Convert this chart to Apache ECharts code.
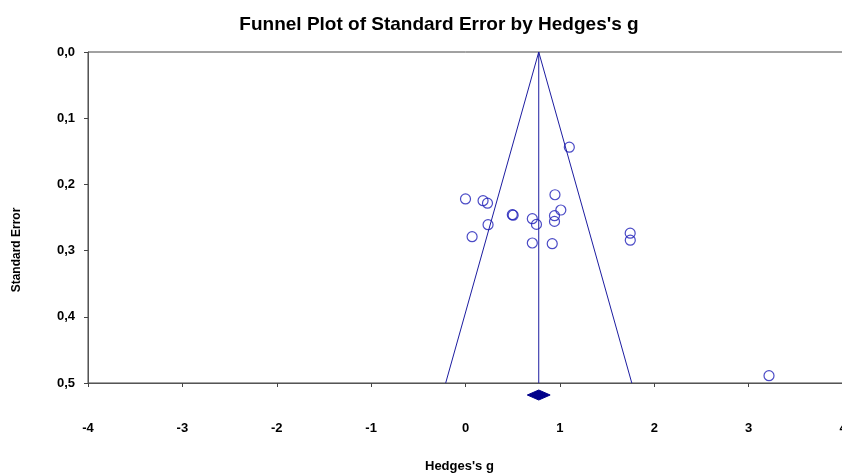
<!DOCTYPE html>
<html>
<head>
<meta charset="utf-8">
<script src="https://cdn.jsdelivr.net/npm/echarts@6/dist/echarts.min.js"></script>
<style>html,body{margin:0;padding:0;background:#fff}#c{width:842px;height:474px}</style>
</head>
<body>
<div id="c"></div>
<script>
// Study effects (Hedges's g) and standard errors
const studyG  = [0.00, 0.186, 0.233, 0.496, 0.505, 0.239, 0.070, 0.708, 0.752, 0.708, 0.919, 0.943, 0.943, 1.010, 0.948, 1.100, 1.745, 1.746, 3.216];
const studySE = [0.222, 0.2246, 0.2284, 0.2458, 0.2465, 0.2609, 0.279, 0.2518, 0.2604, 0.2885, 0.2896, 0.2473, 0.2559, 0.2387, 0.2156, 0.1438, 0.2737, 0.2843, 0.489];
// Summary estimate and CI
const summaryG = 0.776;
const summaryLow = 0.655;
const summaryHigh = 0.897;
// Funnel outline vertices
const funnelG  = [-0.21, 0.776, 1.762];
const funnelSE = [0.5, 0, 0.5];
// Axis ticks
const xTicks = [-4, -3, -2, -1, 0, 1, 2, 3, 4];
const yTicks = [0, 0.1, 0.2, 0.3, 0.4, 0.5];

const FONT = '"Liberation Sans", Arial, sans-serif';
const chart = echarts.init(document.getElementById('c'));
const pts = studyG.map((g, i) => [g, studySE[i]]);
const funnel = funnelG.map((g, i) => [g, funnelSE[i]]);
const center = [[summaryG, yTicks[0]], [summaryG, yTicks[yTicks.length - 1]]];

chart.setOption({
  animation: false,
  backgroundColor: '#fff',
  title: {
    text: "Funnel Plot of Standard Error by Hedges's g",
    left: 434, top: 10, textAlign: 'center',
    textStyle: { fontFamily: FONT, fontSize: 19, fontWeight: 'bold', color: '#000' }
  },
  grid: { left: 88, top: 52, width: 755, height: 331, show: true, borderColor: '#444', borderWidth: 1,
    backgroundColor: 'transparent', containLabel: false, outerBoundsMode: 'none' },
  xAxis: {
    type: 'value', min: xTicks[0], max: xTicks[xTicks.length - 1], interval: 1,
    axisLine: { onZero: false, lineStyle: { color: '#555', width: 1 } },
    axisTick: { length: 4, lineStyle: { color: '#444' } },
    splitLine: { show: false },
    axisLabel: { margin: 39, fontFamily: FONT, fontSize: 13, fontWeight: 'bold', color: '#000', showMaxLabel: true, showMinLabel: true }
  },
  yAxis: {
    type: 'value', inverse: true, min: yTicks[0], max: yTicks[yTicks.length - 1], interval: 0.1,
    axisLine: { show: true, onZero: false, lineStyle: { color: '#555', width: 1 } },
    axisTick: { show: true, length: 4, lineStyle: { color: '#444' } },
    splitLine: { show: false },
    axisLabel: { margin: 13, fontFamily: FONT, fontSize: 13, fontWeight: 'bold', color: '#000',
      formatter: v => v.toFixed(1).replace('.', ',') }
  },
  graphic: [
    { type: 'text', left: 425, top: 460, style: { text: "Hedges's g", font: 'bold 13px ' + FONT, fill: '#000' } },
    { type: 'text', x: 17, y: 250, rotation: Math.PI / 2, style: { text: 'Standard Error', font: 'bold 12px ' + FONT, fill: '#000', align: 'center', verticalAlign: 'middle' } }
  ],
  series: [
    { type: 'line', data: funnel, symbol: 'none', lineStyle: { color: '#1c1ca0', width: 1 }, silent: true },
    { type: 'line', data: center, symbol: 'none', lineStyle: { color: '#1c1ca0', width: 1 }, silent: true },
    { type: 'scatter', data: pts, symbol: 'circle', symbolSize: 10,
      itemStyle: { color: 'rgba(0,0,0,0)', borderColor: '#1e1eb8', borderWidth: 1.2 } },
    { type: 'custom', clip: false, silent: true,
      data: [[summaryLow, summaryG, summaryHigh]],
      renderItem: function (params, api) {
        const ymax = yTicks[yTicks.length - 1];
        const l = api.coord([api.value(0), ymax]);
        const m = api.coord([api.value(1), ymax]);
        const r = api.coord([api.value(2), ymax]);
        const cy = l[1] + 12;
        return { type: 'polygon', shape: { points: [[l[0], cy], [m[0], cy - 5], [r[0], cy], [m[0], cy + 5]] },
          style: { fill: '#00008b', stroke: '#00008b' } };
      } }
  ]
});
</script>
</body>
</html>
